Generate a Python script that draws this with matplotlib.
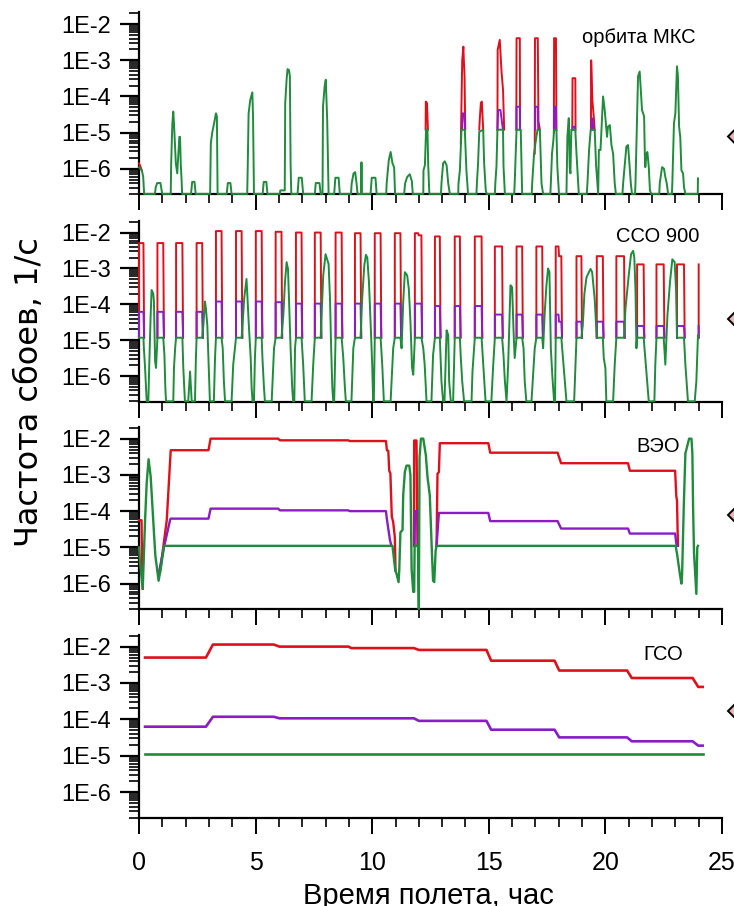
import numpy as np
import matplotlib
matplotlib.use('Agg')
import matplotlib.pyplot as plt
from matplotlib.ticker import FixedLocator, FixedFormatter, NullFormatter, LogLocator, MultipleLocator
from matplotlib.patches import Polygon

nan = np.nan
RED = '#e0101a'
PURPLE = '#8a1cc8'
GREEN = '#1e8c3a'
NARROW = ['Liberation Sans Narrow', 'Liberation Sans', 'DejaVu Sans']

# ---------------- axis texts ----------------
decade_ticks = [1e-6, 1e-5, 1e-4, 1e-3, 1e-2]
decade_labels = ['1E-6', '1E-5', '1E-4', '1E-3', '1E-2']
x_ticks = [0, 5, 10, 15, 20, 25]
x_labels = ['0', '5', '10', '15', '20', '25']
titles = ['орбита МКС', 'ССО 900', 'ВЭО', 'ГСО']
ylabel = 'Частота сбоев, 1/с'
xlabel = 'Время полета, час'

# ---------------- panel 1: ISS orbit ----------------
iss_green = [
    (0.0, 1.1e-6), (0.05, 1.0e-6), (0.12, 9e-7), (0.18, 6e-7), (0.22, 2e-7),
    (0.68, 2e-7), (0.72, 3.1e-7), (0.78, 4e-7), (0.92, 4e-7), (0.97, 2.5e-7), (1.0, 2e-7),
    (1.36, 2e-7), (1.38, 1.4e-6), (1.43, 1.8e-5), (1.47, 3.8e-5), (1.5, 1.8e-5), (1.58, 1.4e-6),
    (1.64, 7.4e-7), (1.69, 2.6e-6), (1.73, 7.6e-6), (1.76, 7.6e-6), (1.79, 1.4e-6), (1.83, 4.3e-7), (1.85, 2e-7),
    (2.23, 2e-7), (2.28, 4.3e-7), (2.38, 4.3e-7), (2.43, 2e-7),
    (3.05, 2e-7), (3.08, 5e-6), (3.14, 1.0e-5), (3.22, 1.8e-5), (3.3, 3.4e-5), (3.34, 2.8e-5), (3.37, 2e-7),
    (3.76, 2e-7), (3.81, 4e-7), (3.92, 4e-7), (3.97, 2e-7),
    (4.64, 2e-7), (4.66, 9e-7), (4.7, 3.4e-5), (4.77, 8e-5), (4.86, 1.3e-4), (4.89, 2.8e-5), (4.93, 2e-7),
    (5.3, 2e-7), (5.35, 4.3e-7), (5.46, 4.3e-7), (5.51, 2e-7),
    (6.04, 2e-7), (6.06, 2.5e-7), (6.25, 2.5e-7), (6.27, 6.5e-5), (6.33, 3e-4), (6.37, 5.7e-4),
    (6.43, 5.4e-4), (6.47, 3.6e-4), (6.5, 1.4e-6), (6.53, 2e-7),
    (6.8, 2e-7), (6.85, 5.6e-7), (6.98, 5.6e-7), (7.04, 2e-7),
    (7.54, 2e-7), (7.58, 4e-7), (7.74, 4e-7), (7.79, 2e-7),
    (7.87, 2e-7), (7.89, 5.2e-5), (7.96, 1.9e-4), (8.01, 2.9e-4), (8.07, 2.2e-5), (8.13, 2e-7),
    (8.37, 2e-7), (8.42, 5.6e-7), (8.56, 5.6e-7), (8.61, 2e-7),
    (9.09, 2e-7), (9.12, 3.9e-7), (9.2, 7.4e-7), (9.27, 8e-7), (9.33, 3.9e-7), (9.37, 2e-7),
    (9.53, 2e-7), (9.54, 1.5e-6), (9.55, 2e-7),
    (9.93, 2e-7), (9.98, 5.6e-7), (10.14, 5.6e-7), (10.19, 2e-7),
    (10.6, 2e-7), (10.62, 3.9e-7), (10.71, 1.7e-6), (10.79, 2.9e-6), (10.87, 1.4e-6), (10.94, 1.1e-6), (10.98, 2e-7),
    (11.37, 2e-7), (11.41, 3.9e-7), (11.5, 5.9e-7), (11.61, 7e-7), (11.7, 4.5e-7), (11.74, 2e-7),
    (12.19, 2e-7), (12.2, 9e-7), (12.26, 1.25e-6), (12.31, 1.2e-5), (12.37, 1.2e-5), (12.4, 1.4e-6), (12.45, 2e-7),
    (12.95, 2e-7), (12.97, 3.9e-7), (13.04, 1.4e-6), (13.11, 1.6e-6), (13.19, 1.25e-6), (13.26, 3.9e-7), (13.33, 2e-7),
    (13.69, 2e-7), (13.7, 3.9e-7), (13.76, 9e-7), (13.83, 1.2e-5), (13.97, 1.2e-5), (14.04, 9e-7), (14.11, 2e-7),
    (14.47, 2e-7), (14.49, 3.9e-7), (14.54, 1.4e-6), (14.59, 1.05e-5), (14.76, 1.2e-5), (14.8, 1.4e-6),
    (14.87, 2.5e-7), (14.91, 2e-7),
    (15.26, 2e-7), (15.28, 3.9e-7), (15.33, 1.2e-6), (15.37, 1.2e-5), (15.61, 1.2e-5), (15.63, 1.2e-6), (15.69, 2e-7),
    (16.09, 2e-7), (16.11, 3.9e-7), (16.14, 1.4e-6), (16.19, 1.2e-5), (16.37, 1.2e-5), (16.4, 1.4e-6), (16.43, 2e-7),
    (16.84, 2e-7), (16.86, 3.9e-7), (16.94, 2.6e-6), (17.04, 7.6e-6), (17.09, 1.2e-5), (17.19, 1.2e-5),
    (17.26, 3.9e-7), (17.33, 2e-7),
    (17.64, 2e-7), (17.66, 3.9e-7), (17.71, 2.6e-6), (17.77, 6.2e-6), (17.8, 1.2e-5), (17.9, 1.2e-5),
    (17.94, 1.1e-6), (18.01, 2e-7),
    (18.33, 2e-7), (18.37, 7.6e-6), (18.43, 2.5e-5), (18.47, 1.1e-6), (18.5, 7.4e-7), (18.54, 1.2e-5),
    (18.71, 1.2e-5), (18.76, 2.6e-6), (18.86, 2e-7),
    (19.2, 2e-7), (19.23, 3.9e-7), (19.3, 3.3e-6), (19.37, 1.2e-5), (19.54, 1.2e-5), (19.6, 1.25e-6), (19.69, 2e-7),
    (19.72, 3.3e-6), (19.79, 3.3e-6), (19.9, 1e-4), (19.97, 4.2e-5), (20.07, 7.6e-6), (20.11, 1.45e-5),
    (20.19, 1.6e-5), (20.26, 4.5e-6), (20.33, 2.6e-6), (20.4, 3.9e-7), (20.45, 2e-7),
    (20.73, 2e-7), (20.76, 3.9e-7), (20.9, 4.1e-6), (20.97, 4.5e-6), (21.01, 2.1e-6), (21.09, 3.9e-7), (21.14, 2e-7),
    (21.27, 2e-7), (21.29, 3.9e-7), (21.4, 3.6e-4), (21.47, 4.9e-4), (21.57, 4.2e-5), (21.66, 2.8e-5),
    (21.69, 2.6e-6), (21.71, 1.1e-6), (21.76, 2.6e-6), (21.8, 2.9e-6), (21.86, 1.1e-6), (21.91, 2.5e-7), (21.97, 2e-7),
    (22.31, 2e-7), (22.33, 3.9e-7), (22.43, 1.1e-6), (22.51, 1.0e-6), (22.57, 5.9e-7), (22.63, 3.9e-7), (22.69, 2e-7),
    (22.85, 2e-7), (22.87, 3.9e-7), (22.94, 1.8e-5), (23.0, 3.4e-5), (23.07, 6.8e-4), (23.11, 3.6e-4),
    (23.16, 1.45e-5), (23.21, 7.6e-6), (23.26, 9e-7), (23.33, 7.4e-7), (23.37, 3.1e-7), (23.43, 2e-7),
    (23.96, 2e-7), (23.97, 5.4e-7),
]
iss_red = [
    (0.0, 1.4e-6), (0.05, 1.2e-6), (0.12, 9e-7), (nan, nan),
    (12.29, 1.2e-5), (12.3, 7.2e-5), (12.35, 6.5e-5), (12.39, 1.2e-5), (nan, nan),
    (13.8, 5e-6), (13.86, 1.0e-3), (13.91, 2.4e-3), (13.93, 1.0e-3), (13.96, 3.6e-4), (13.99, 1.2e-5), (nan, nan),
    (14.59, 1.2e-5), (14.62, 2.8e-5), (14.66, 6.5e-5), (14.7, 7.2e-5), (14.76, 1.2e-5), (nan, nan),
    (15.37, 1.2e-5), (15.38, 1.95e-3), (15.47, 3.7e-3), (15.54, 5.5e-4), (15.61, 1.5e-4), (15.66, 1.2e-5), (nan, nan),
    (16.18, 1.2e-5), (16.19, 4.1e-3), (16.33, 4.1e-3), (16.34, 1.2e-5), (nan, nan),
    (16.97, 2.6e-6), (16.98, 4.1e-3), (17.1, 4.1e-3), (17.13, 2e-5), (17.19, 1.2e-5), (nan, nan),
    (17.79, 1.0e-5), (17.8, 4.1e-3), (17.88, 4.1e-3), (17.9, 1.2e-5), (nan, nan),
    (18.58, 1.2e-5), (18.59, 3.2e-4), (18.71, 3.2e-4), (18.72, 1.2e-5), (nan, nan),
    (19.38, 1.2e-5), (19.39, 1.0e-3), (19.44, 8e-5), (19.5, 2.8e-5), (19.54, 1.2e-5),
]
iss_purple = [
    (13.85, 1.2e-5), (13.88, 3.4e-5), (13.95, 3.4e-5), (13.98, 1.2e-5), (nan, nan),
    (15.37, 1.2e-5), (15.4, 4.2e-5), (15.5, 4.2e-5), (15.58, 1.6e-5), (15.61, 1.2e-5), (nan, nan),
    (16.19, 1.2e-5), (16.19, 5.2e-5), (16.33, 5.2e-5), (16.34, 1.2e-5), (nan, nan),
    (16.99, 1.2e-5), (16.99, 5.2e-5), (17.1, 5.2e-5), (17.12, 1.2e-5), (nan, nan),
    (17.8, 1.2e-5), (17.8, 5.2e-5), (17.88, 5.2e-5), (17.89, 1.2e-5), (nan, nan),
    (18.59, 1.2e-5), (18.59, 1.45e-5), (18.69, 1.45e-5), (18.7, 1.2e-5), (nan, nan),
    (19.41, 1.2e-5), (19.42, 2.5e-5), (19.48, 1.6e-5), (19.5, 1.2e-5),
]

# ---------------- panel 2: SSO 900 ----------------
sso_green = [
    (0.0, 1.18e-5), (0.19, 1.18e-5), (0.21, 6e-6), (0.26, 1.7e-6), (0.3, 4.7e-7), (0.33, 2e-7), (0.4, 2e-7),
    (0.44, 2.1e-6), (0.5, 5e-5), (0.54, 2.5e-4), (0.61, 2.0e-4), (0.64, 1.2e-4), (0.69, 2.6e-6), (0.73, 1.7e-6), (0.79, 1.18e-5),
    (1.04, 1.18e-5), (1.09, 3.9e-6), (1.13, 4.7e-7), (1.16, 2e-7), (1.47, 2e-7), (1.5, 1.7e-6), (1.55, 6e-6), (1.59, 1.18e-5),
    (1.86, 1.18e-5), (1.9, 1.7e-6), (1.97, 2e-7), (2.11, 2e-7), (2.19, 1.35e-6), (2.26, 2e-7), (2.4, 2e-7), (2.44, 3.2e-6), (2.47, 1.18e-5),
    (2.71, 1.18e-5), (2.76, 2.6e-5), (2.83, 1.2e-4), (2.87, 7.6e-5), (2.93, 2.6e-5), (2.99, 1.7e-6), (3.04, 2e-7),
    (3.21, 2e-7), (3.26, 3.2e-6), (3.3, 1.18e-5),
    (3.54, 1.18e-5), (3.59, 6e-6), (3.64, 7.2e-7), (3.69, 2e-7), (3.97, 2e-7), (4.04, 2.1e-6), (4.16, 1.18e-5),
    (4.4, 1.18e-5), (4.44, 2.6e-5), (4.51, 1.45e-4), (4.61, 5.1e-4), (4.64, 2.2e-4), (4.71, 2.6e-5), (4.79, 3.2e-6),
    (4.83, 4.7e-7), (4.87, 2e-7), (4.93, 2e-7), (4.97, 3.2e-6), (5.01, 1.18e-5),
    (5.26, 1.18e-5), (5.3, 2.6e-6), (5.36, 4.7e-7), (5.4, 2e-7), (5.69, 2e-7), (5.79, 6e-6), (5.86, 1.18e-5),
    (6.11, 1.18e-5), (6.19, 5e-5), (6.26, 4.2e-4), (6.33, 1.5e-3), (6.39, 9.7e-4), (6.43, 1.45e-4), (6.5, 6e-6),
    (6.57, 4.7e-7), (6.61, 2e-7), (6.66, 2e-7), (6.69, 6e-6), (6.73, 1.18e-5),
    (6.97, 1.18e-5), (7.04, 2.1e-6), (7.11, 2e-7), (7.4, 2e-7), (7.47, 2.1e-6), (7.54, 1.18e-5),
    (7.79, 1.18e-5), (7.83, 5e-5), (7.9, 6.4e-4), (8.0, 2.5e-3), (8.07, 1.8e-3), (8.13, 1.33e-3), (8.19, 1.45e-4),
    (8.24, 6e-6), (8.29, 4.7e-7), (8.33, 2e-7), (8.37, 2e-7), (8.43, 1.18e-5),
    (8.69, 1.18e-5), (8.76, 3.2e-6), (8.83, 4.7e-7), (8.87, 2e-7), (9.11, 2e-7), (9.19, 6e-6), (9.26, 1.18e-5),
    (9.5, 1.18e-5), (9.57, 1.45e-4), (9.66, 1.2e-3), (9.73, 2.4e-3), (9.79, 2.0e-3), (9.86, 4.2e-4), (9.93, 3.3e-5),
    (10.0, 2.1e-6), (10.04, 2e-7), (10.07, 2e-7), (10.11, 1.18e-5),
    (10.36, 1.18e-5), (10.43, 2.1e-6), (10.5, 2e-7), (10.79, 2e-7), (10.9, 6e-6), (10.97, 1.18e-5),
    (11.21, 1.18e-5), (11.26, 6e-6), (11.33, 1.2e-4), (11.4, 7.9e-4), (11.5, 6.4e-4), (11.57, 2.7e-4), (11.64, 3.3e-5),
    (11.71, 1.7e-6), (11.76, 1.1e-6), (11.83, 1.18e-5),
    (12.11, 1.18e-5), (12.19, 6e-6), (12.25, 2.1e-6), (12.33, 2e-7), (12.54, 2e-7), (12.61, 3.9e-6), (12.69, 1.18e-5),
    (12.9, 1.18e-5), (12.97, 7.2e-7), (13.04, 2e-7), (13.1, 2e-7), (13.19, 1.9e-5), (13.26, 1.4e-5), (13.3, 7.2e-7),
    (13.37, 2e-7), (13.47, 2e-7), (13.54, 1.18e-5),
    (13.76, 1.18e-5), (13.8, 3.2e-6), (13.86, 7.2e-7), (13.94, 2e-7), (14.26, 2e-7), (14.3, 1.35e-6), (14.4, 1.18e-5),
    (14.69, 1.18e-5), (14.76, 2.1e-6), (14.8, 7.2e-7), (14.86, 2e-7), (15.11, 2e-7), (15.19, 2.1e-6), (15.26, 1.18e-5),
    (15.57, 1.18e-5), (15.63, 3.9e-6), (15.69, 7.2e-7), (15.76, 2e-7), (15.83, 2.1e-6), (15.93, 3.4e-4), (16.0, 3.0e-4),
    (16.06, 1.9e-5), (16.11, 3.2e-6), (16.19, 1.18e-5),
    (16.43, 1.18e-5), (16.49, 6e-6), (16.54, 7.2e-7), (16.61, 2e-7), (16.83, 2e-7), (16.97, 6e-6), (17.04, 1.18e-5),
    (17.29, 1.18e-5), (17.33, 6e-6), (17.4, 6.2e-5), (17.47, 3.3e-4), (17.54, 1.0e-3), (17.6, 8e-4), (17.66, 6e-6),
    (17.73, 8.9e-7), (17.8, 2e-7), (17.84, 2e-7), (17.87, 1.18e-5),
    (18.11, 1.18e-5), (18.19, 2.6e-6), (18.26, 7.2e-7), (18.33, 2e-7), (18.66, 2e-7), (18.76, 1.18e-5),
    (18.97, 1.18e-5), (19.03, 2.6e-5), (19.1, 2e-4), (19.19, 5.7e-4), (19.36, 9.7e-4), (19.43, 8e-4), (19.54, 1.45e-4), (19.63, 1.18e-5),
    (19.89, 1.18e-5), (19.93, 3.2e-6), (20.0, 1.7e-6), (20.04, 2e-7), (20.33, 2e-7), (20.4, 2.1e-6), (20.47, 1.18e-5),
    (20.8, 1.18e-5), (20.86, 7.6e-5), (21.0, 6.4e-4), (21.1, 2.5e-3), (21.19, 3.1e-3), (21.24, 2.0e-3), (21.29, 2.5e-4),
    (21.33, 6e-6), (21.36, 1.18e-5),
    (21.64, 1.18e-5), (21.71, 3.2e-6), (21.79, 7.2e-7), (21.86, 2e-7), (22.1, 2e-7), (22.14, 2.1e-6), (22.19, 1.18e-5),
    (22.5, 1.18e-5), (22.57, 2.1e-6), (22.66, 5e-5), (22.77, 4.2e-4), (22.87, 1.8e-3), (22.97, 1.5e-3), (23.03, 2.5e-4), (23.07, 1.18e-5),
    (23.37, 1.18e-5), (23.43, 2.1e-6), (23.54, 2e-7), (23.83, 2e-7), (23.9, 7.2e-7), (23.97, 1.4e-5), (24.0, 1.4e-5),
]
sso_pulse_start = [0.0, 0.79, 1.59, 2.47, 3.3, 4.16, 5.01, 5.86, 6.73, 7.54, 8.43, 9.26, 10.11, 10.97, 11.83,
                   12.69, 13.54, 14.4, 15.26, 16.19, 17.04, 17.87, 18.76, 19.63, 20.47, 21.36, 22.19, 23.07, 24.0]
sso_pulse_end = [0.19, 1.04, 1.86, 2.71, 3.54, 4.4, 5.26, 6.11, 6.97, 7.79, 8.69, 9.5, 10.36, 11.21, 12.11,
                 12.9, 13.76, 14.69, 15.57, 16.43, 17.29, 18.11, 18.97, 19.89, 20.8, 21.64, 22.5, 23.37, 24.0]
sso_red_first = [5.1e-3, 5.1e-3, 5.1e-3, 5.1e-3, 1.1e-2, 1.1e-2, 1.1e-2, 1.05e-2, 1.0e-2, 1.0e-2, 1.0e-2, 9.6e-3,
                 9.6e-3, 9.6e-3, 9.6e-3, 7.8e-3, 7.8e-3, 7.8e-3, 4.1e-3, 4.1e-3, 4.1e-3, 4.1e-3, 2.2e-3, 2.2e-3,
                 2.2e-3, 1.3e-3, 1.3e-3, 1.3e-3, 1.3e-3]
sso_red_second = [5.1e-3, 5.1e-3, 5.1e-3, 5.1e-3, 1.1e-2, 1.1e-2, 1.1e-2, 1.05e-2, 1.0e-2, 1.0e-2, 1.0e-2, 9.6e-3,
                  9.6e-3, 9.6e-3, 8.4e-3, 7.8e-3, 7.8e-3, 7.8e-3, 4.1e-3, 4.1e-3, 4.1e-3, 2.2e-3, 2.2e-3, 2.2e-3,
                  2.2e-3, 1.3e-3, 1.3e-3, 1.3e-3, 1.3e-3]
sso_purple_first = [6.2e-5, 6.2e-5, 6.2e-5, 6.2e-5, 1.2e-4, 1.2e-4, 1.2e-4, 1.15e-4, 1.05e-4, 1.05e-4, 1.05e-4, 1.05e-4,
                    1.05e-4, 1.05e-4, 1.05e-4, 9e-5, 9e-5, 9e-5, 5.2e-5, 5.2e-5, 5.2e-5, 5.2e-5, 3.3e-5, 3.3e-5,
                    3.3e-5, 2.5e-5, 2.5e-5, 2.5e-5, 2.5e-5]
sso_purple_second = [6.2e-5, 6.2e-5, 6.2e-5, 6.2e-5, 1.2e-4, 1.2e-4, 1.2e-4, 1.15e-4, 1.05e-4, 1.05e-4, 1.05e-4, 1.05e-4,
                     1.05e-4, 1.05e-4, 1.05e-4, 9e-5, 9e-5, 9e-5, 5.2e-5, 5.2e-5, 5.2e-5, 3.3e-5, 3.3e-5, 3.3e-5,
                     3.3e-5, 2.5e-5, 2.5e-5, 2.5e-5, 2.5e-5]
sso_base = 1.18e-5

# ---------------- panel 3: HEO ----------------
heo_green = [
    (0.0, 1.0e-5), (0.04, 4e-6), (0.16, 7.2e-7), (0.26, 5.6e-5), (0.33, 6e-4), (0.41, 2.7e-3), (0.5, 9e-4),
    (0.61, 5.6e-5), (0.7, 6e-6), (0.84, 1.2e-6), (0.95, 3e-6), (1.07, 1.1e-5), (10.87, 1.1e-5),
    (10.93, 5e-6), (10.99, 2.3e-6), (11.04, 1.9e-6), (11.13, 1.1e-6), (11.16, 2.3e-6), (11.21, 2.6e-5), (11.3, 3e-5),
    (11.33, 2.8e-4), (11.4, 1.2e-3), (11.47, 1.8e-3), (11.59, 1.8e-3), (11.64, 9.8e-4), (11.69, 2.5e-6),
    (11.76, 5.9e-7), (11.8, 5.9e-7), (11.82, 1.1e-5), (11.96, 1.1e-5), (12.0, 2e-7), (12.03, 3e-3), (12.09, 1e-2),
    (12.19, 1e-2), (12.3, 3.5e-3), (12.37, 9e-4), (12.47, 2.7e-4), (12.56, 7.4e-6), (12.61, 1.2e-6), (12.66, 1.1e-6),
    (12.72, 8e-6), (12.76, 1.1e-5), (23.01, 1.1e-5),
    (23.07, 6.8e-6), (23.19, 1.9e-6), (23.26, 1.0e-6), (23.29, 1.9e-6), (23.36, 1.3e-4), (23.43, 3.9e-3),
    (23.59, 1e-2), (23.69, 1e-2), (23.73, 3.9e-3), (23.76, 1.3e-4), (23.8, 7e-6), (23.9, 5.2e-7), (23.94, 1e-5), (23.97, 1.1e-5),
]
heo_red = [
    (0.0, 5.6e-5), (0.11, 5.6e-5), (0.13, 3.5e-6), (0.16, 7.2e-7), (nan, nan),
    (0.84, 2.1e-6), (0.9, 2.1e-6), (1.04, 1.0e-5), (1.19, 5.6e-5), (1.36, 4.8e-3), (2.98, 4.8e-3), (3.07, 1e-2),
    (5.97, 1e-2), (6.04, 9e-3), (8.97, 9e-3), (9.04, 8.6e-3), (10.59, 8.6e-3), (10.63, 4.8e-3), (10.69, 4.6e-3),
    (10.73, 1.3e-3), (10.78, 1.1e-3), (10.84, 7e-5), (10.9, 5e-5), (10.97, 1.9e-5), (11.0, 2.3e-6), (nan, nan),
    (11.79, 1.1e-5), (11.8, 8.9e-3), (11.9, 8.9e-3), (11.94, 1.1e-5), (nan, nan),
    (12.76, 1.1e-5), (12.8, 1.07e-3), (12.86, 1.2e-3), (12.9, 7.5e-3), (14.98, 7.5e-3), (15.06, 4.1e-3),
    (17.95, 4.1e-3), (18.1, 2.1e-3), (20.97, 2.1e-3), (21.05, 1.3e-3), (22.99, 1.3e-3), (23.04, 2.6e-4),
    (23.07, 2e-4), (23.11, 1.1e-5),
]
heo_purple = [
    (0.84, 2.1e-6), (0.86, 2.1e-6), (1.07, 1.0e-5), (1.33, 5.6e-5), (1.36, 6.2e-5), (2.98, 6.2e-5), (3.07, 1.17e-4),
    (5.97, 1.17e-4), (6.04, 1.05e-4), (8.97, 1.05e-4), (9.04, 1.0e-4), (10.59, 1.0e-4), (10.63, 6e-5),
    (10.76, 1.6e-5), (10.82, 1.13e-5), (nan, nan),
    (11.82, 1.1e-5), (11.83, 1e-4), (11.97, 1e-4), (11.98, 1.1e-5), (nan, nan),
    (12.76, 1.1e-5), (12.8, 2.5e-5), (12.86, 8.9e-5), (14.98, 8.9e-5), (15.06, 5.3e-5), (17.95, 5.3e-5),
    (18.1, 3.3e-5), (20.97, 3.3e-5), (21.05, 2.4e-5), (22.99, 2.4e-5), (23.04, 1.3e-5), (23.07, 1.1e-5),
]

# ---------------- panel 4: GEO ----------------
geo_red = [
    (0.26, 5e-3), (2.87, 5e-3), (3.17, 1.14e-2), (5.78, 1.14e-2), (6.02, 1e-2), (8.99, 1e-2), (9.1, 9.1e-3),
    (11.79, 9.1e-3), (12.0, 8.1e-3), (14.9, 8.1e-3), (15.1, 4.1e-3), (17.82, 4.1e-3), (18.02, 2.2e-3),
    (20.93, 2.2e-3), (21.13, 1.37e-3), (23.74, 1.37e-3), (23.98, 7.8e-4), (24.17, 7.8e-4),
]
geo_purple = [
    (0.26, 6.3e-5), (2.87, 6.3e-5), (3.17, 1.18e-4), (5.78, 1.18e-4), (6.02, 1.07e-4), (11.79, 1.07e-4),
    (12.0, 9.1e-5), (14.9, 9.1e-5), (15.1, 5.2e-5), (17.82, 5.2e-5), (18.02, 3.2e-5), (20.93, 3.2e-5),
    (21.13, 2.5e-5), (23.74, 2.5e-5), (23.98, 1.9e-5), (24.17, 1.9e-5),
]
geo_green = [(0.26, 1.15e-5), (24.17, 1.15e-5)]


def pulses(starts, ends, first, second, base):
    pts = []
    for s, e, a, b in zip(starts, ends, first, second):
        if e <= s:
            pts += [(s, base), (s, a), (nan, nan)]
            continue
        m = 0.5 * (s + e)
        pts += [(s, base), (s, a), (m, a), (m + 0.02, b), (e, b), (e + 0.03, base), (nan, nan)]
    return pts


sso_red = pulses(sso_pulse_start, sso_pulse_end, sso_red_first, sso_red_second, sso_base)
sso_purple = pulses(sso_pulse_start, sso_pulse_end, sso_purple_first, sso_purple_second, sso_base)

panels = [
    (iss_red, iss_purple, iss_green, 1.4),
    (sso_red, sso_purple, sso_green, 1.4),
    (heo_red, heo_purple, heo_green, 1.7),
    (geo_red, geo_purple, geo_green, 1.9),
]

W, H = 734, 906
panel_px = [(12.3, 194.3), (220.7, 401.7), (426.7, 609.3), (634.6, 818.0)]
title_pos = [(0.954, 0.859), (0.962, 0.915), (0.928, 0.889), (0.933, 0.889)]
marker_y = [136.5, 319, 515, 711]
YMIN, YMAX = 10 ** -6.71, 10 ** -1.67

fig = plt.figure(figsize=(W / 100, H / 100), dpi=100)
for i, ((top, bot), (red, pur, grn, lw)) in enumerate(zip(panel_px, panels)):
    ax = fig.add_axes([139 / W, 1 - bot / H, 583 / W, (bot - top) / H])
    ax.set_yscale('log')
    for pts, col in ((red, RED), (pur, PURPLE), (grn, GREEN)):
        t = [p[0] for p in pts]
        v = [p[1] for p in pts]
        ax.plot(t, v, color=col, lw=lw, clip_on=False, zorder=3)
    ax.set_xlim(0, 25)
    ax.set_ylim(YMIN, YMAX)
    ax.yaxis.set_major_locator(FixedLocator(decade_ticks))
    ax.yaxis.set_major_formatter(FixedFormatter(decade_labels))
    ax.yaxis.set_minor_locator(LogLocator(base=10, subs=range(2, 10), numticks=30))
    ax.yaxis.set_minor_formatter(NullFormatter())
    ax.xaxis.set_major_locator(FixedLocator(x_ticks))
    ax.xaxis.set_minor_locator(MultipleLocator(1))
    if i == 3:
        ax.xaxis.set_major_formatter(FixedFormatter(x_labels))
    else:
        ax.xaxis.set_major_formatter(NullFormatter())
    ax.tick_params(axis='y', which='major', length=14, width=1.6, pad=6, labelsize=17)
    ax.tick_params(axis='y', which='minor', length=7, width=1.2)
    ax.tick_params(axis='x', which='major', length=11.5, width=1.4, pad=12, labelsize=18)
    ax.tick_params(axis='x', which='minor', length=6.5, width=1.2)
    for lab in ax.get_yticklabels() + ax.get_xticklabels():
        lab.set_family(NARROW)
    for side in ('top', 'right'):
        ax.spines[side].set_visible(False)
    for side in ('left', 'bottom'):
        ax.spines[side].set_linewidth(1.6)
    ax.patch.set_alpha(0)
    tx, ty = title_pos[i]
    ax.text(tx, ty, titles[i], transform=ax.transAxes, ha='right', va='center',
            fontsize=14.5, family=['Liberation Sans', 'DejaVu Sans'])
    # clipped legend diamonds at the right border
    yc = marker_y[i]
    poly = [(728 / W, 1 - yc / H), (735.5 / W, 1 - (yc - 7.5) / H),
            (743 / W, 1 - yc / H), (735.5 / W, 1 - (yc + 7.5) / H)]
    fig.add_artist(Polygon(poly, closed=True, transform=fig.transFigure,
                           facecolor='#f3b0b0', edgecolor='black', lw=1.4))

fig.text(30 / W, 1 - 392 / H, ylabel, rotation=90, ha='center', va='center',
         fontsize=23, family=['DejaVu Sans'])
fig.text(428 / W, 1 - 904 / H, xlabel, ha='center', va='baseline',
         fontsize=21, family=NARROW)

fig.savefig('out.png', dpi=100)
